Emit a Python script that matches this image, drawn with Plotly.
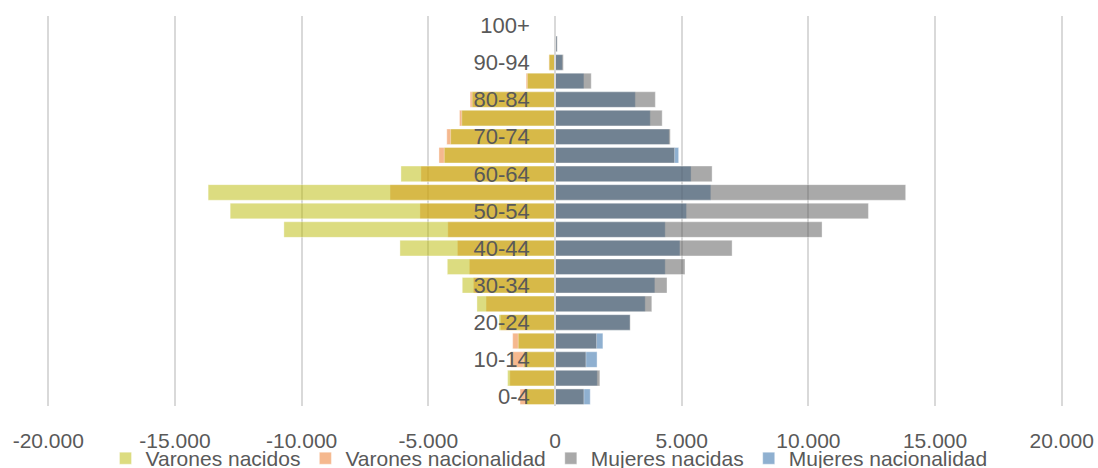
import plotly.graph_objects as go

categorias = ["0-4", "5-9", "10-14", "15-19", "20-24", "25-29", "30-34", "35-39",
              "40-44", "45-49", "50-54", "55-59", "60-64", "65-69", "70-74", "75-79",
              "80-84", "85-89", "90-94", "95-99", "100+"]

varones_nacidos = [1180, 1870, 1250, 1450, 2210, 3080, 3660, 4250, 6120, 10700, 12820,
                   13690, 6080, 4370, 4120, 3680, 3270, 1090, 230, 20, 5]
varones_nacionalidad = [1380, 1780, 1740, 1670, 2150, 2720, 3220, 3380, 3850, 4230, 5330,
                        6510, 5290, 4580, 4270, 3770, 3350, 1140, 240, 25, 5]
mujeres_nacidas = [1140, 1770, 1220, 1640, 2970, 3820, 4420, 5130, 6990, 10540, 12370,
                   13840, 6200, 4720, 4550, 4230, 3960, 1430, 330, 90, 15]
mujeres_nacionalidad = [1390, 1670, 1660, 1890, 2960, 3560, 3940, 4350, 4930, 4350, 5190,
                        6150, 5370, 4880, 4510, 3760, 3170, 1140, 290, 70, 10]

x_tickvals = [-20000, -15000, -10000, -5000, 0, 5000, 10000, 15000, 20000]
x_ticktext = ["-20.000", "-15.000", "-10.000", "-5.000", "0", "5.000", "10.000", "15.000", "20.000"]

FONT = "Liberation Sans, Arial, sans-serif"
TXT = "#595959"
edge = dict(color="rgba(255,255,255,0.45)", width=0.8)

fig = go.Figure()
# bottom layers (nationality)
fig.add_trace(go.Bar(y=categorias, x=[-v for v in varones_nacionalidad], orientation="h",
                     name="Varones nacionalidad", legendrank=2,
                     marker=dict(color="rgba(237,125,49,0.55)", line=edge)))
fig.add_trace(go.Bar(y=categorias, x=mujeres_nacionalidad, orientation="h",
                     name="Mujeres nacionalidad", legendrank=4,
                     marker=dict(color="rgba(68,123,177,0.6)", line=edge)))
# top layers (born abroad), semi-transparent
fig.add_trace(go.Bar(y=categorias, x=[-v for v in varones_nacidos], orientation="h",
                     name="Varones nacidos", legendrank=1,
                     marker=dict(color="rgba(186,186,2,0.5)", line=edge)))
fig.add_trace(go.Bar(y=categorias, x=mujeres_nacidas, orientation="h",
                     name="Mujeres nacidas", legendrank=3,
                     marker=dict(color="rgba(83,83,83,0.5)", line=edge)))

fig.update_layout(
    width=1098, height=468,
    barmode="overlay", bargap=0.16,
    margin=dict(l=47, r=35, t=16, b=62, autoexpand=False),
    paper_bgcolor="white", plot_bgcolor="white",
    font=dict(family=FONT, size=21, color=TXT),
    showlegend=True,
    legend=dict(orientation="h", x=0.5, xanchor="center", xref="container",
                y=0.064, yanchor="top", yref="container",
                font=dict(family=FONT, size=21, color=TXT),
                traceorder="normal", itemwidth=30, bgcolor="rgba(0,0,0,0)"),
    xaxis=dict(range=[-20050, 20050], tickmode="array", tickvals=x_tickvals,
               ticktext=x_ticktext, showgrid=True, gridcolor="#D9D9D9", gridwidth=1.5,
               zeroline=False, showline=False, ticks="", automargin=False,
               tickfont=dict(family=FONT, size=21, color=TXT), ticklabelstandoff=20),
    yaxis=dict(type="category", categoryorder="array", categoryarray=categorias,
               range=[-0.5, 20.5], tickmode="array", tickvals=categorias[::2],
               ticktext=categorias[::2], anchor="free", position=0.5, side="left",
               showgrid=False, zeroline=False, showline=True, linecolor="#D9D9D9",
               linewidth=1.5, ticks="", ticklabelstandoff=20, automargin=False,
               tickfont=dict(family=FONT, size=22, color=TXT)),
)

fig.write_html("out.html", config={"displayModeBar": False},
               post_script="document.body.style.margin='0px';document.body.style.overflow='hidden';")
